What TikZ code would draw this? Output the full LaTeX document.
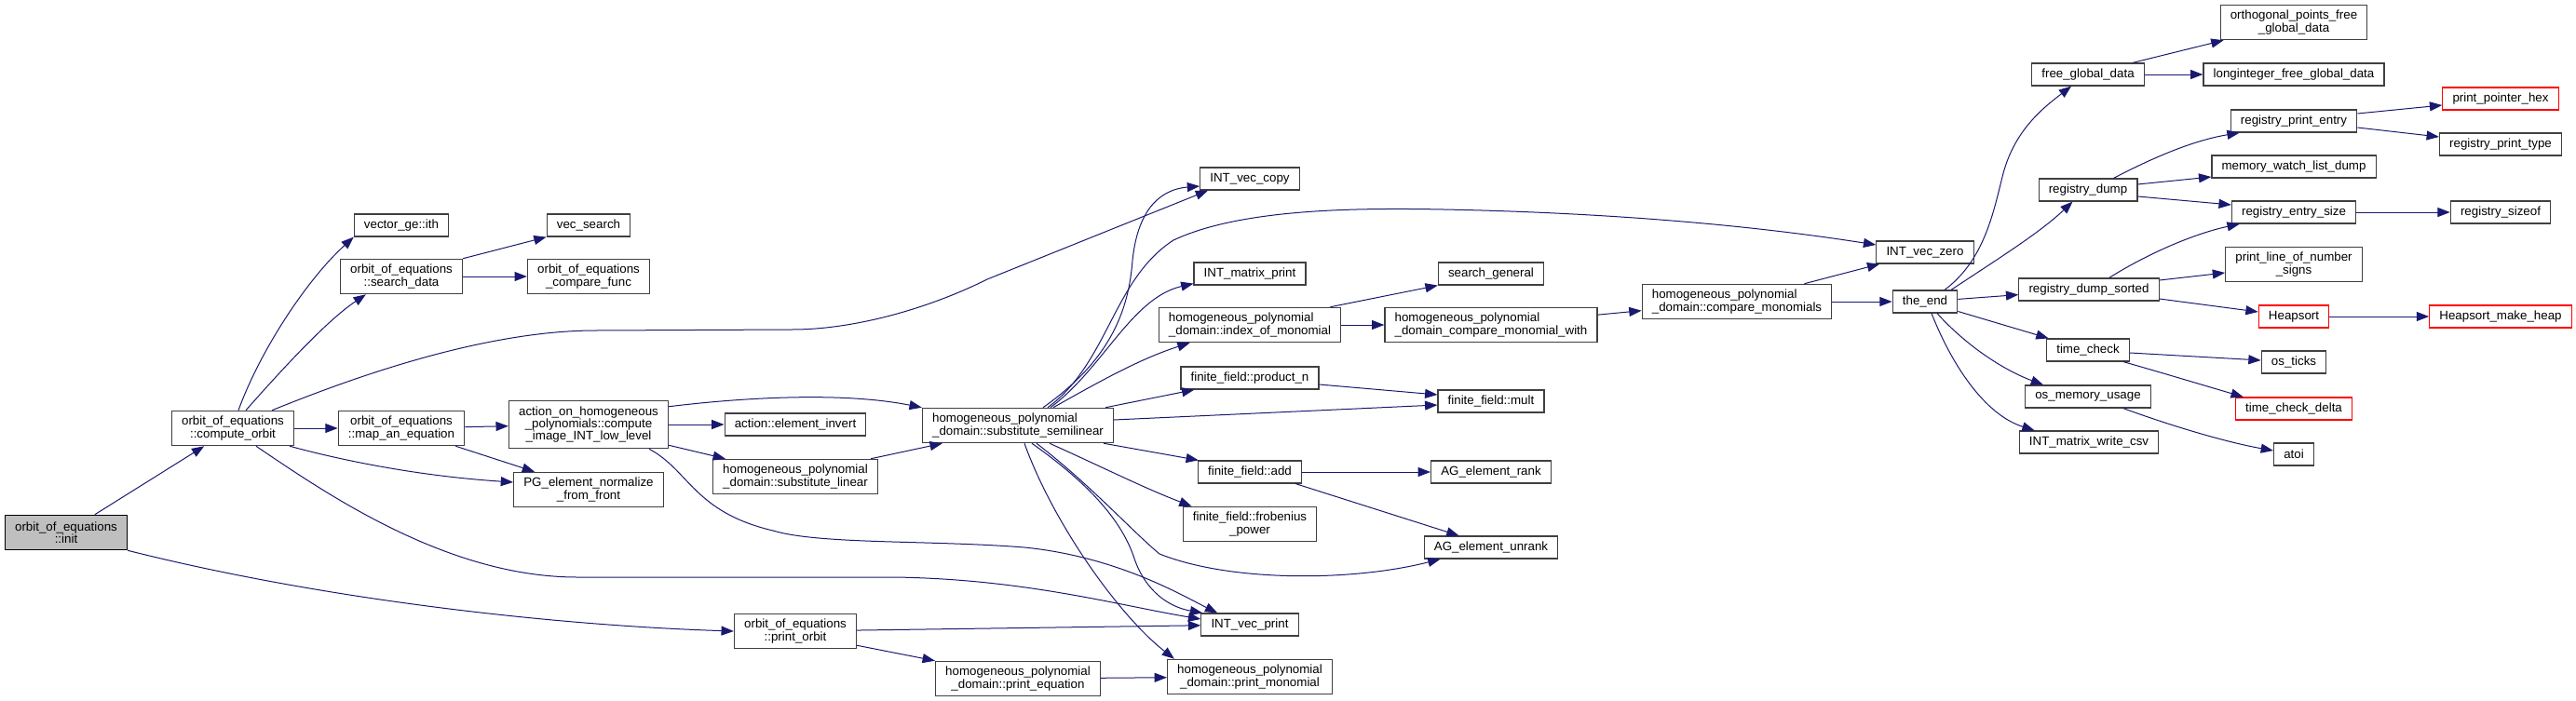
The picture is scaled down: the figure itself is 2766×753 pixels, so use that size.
\documentclass[tikz,border=0pt]{standalone}
\usepackage{fontspec}
\setmainfont{Liberation Sans}
\usetikzlibrary{arrows.meta,calc}
\definecolor{navyedge}{HTML}{191970}
\definecolor{boxline}{HTML}{404040}
\definecolor{rootfill}{HTML}{BFBFBF}
\tikzset{
  box/.style={draw=boxline, line width=0.9pt, fill=white, inner xsep=8pt, inner ysep=0pt,
    font=\fontsize{10}{10}\selectfont, align=center, minimum height=18pt},
  two/.style={minimum height=28pt},
  three/.style={minimum height=38.5pt},
  lft/.style={align=left},
  redbox/.style={draw=red},
  e/.style={draw=navyedge, line width=0.75pt, -{Triangle[length=10pt,width=7.5pt]}},
}
\begin{document}
\begin{tikzpicture}[x=0.75pt,y=-0.75pt]
\useasboundingbox (0,0) rectangle (2766,753);
% nodes
\node[box,two,fill=rootfill,draw=black] (init) at (71,572) {orbit\_of\_equations\\::init};
\node[box,two] (corb) at (250,460) {orbit\_of\_equations\\::compute\_orbit};
\node[box] (vith) at (431,242) {vector\_ge::ith};
\node[box,two] (sdata) at (431,297) {orbit\_of\_equations\\::search\_data};
\node[box,two] (mapeq) at (431,460) {orbit\_of\_equations\\::map\_an\_equation};
\node[box] (vsearch) at (632,242) {vec\_search};
\node[box,two] (cfunc) at (632,297) {orbit\_of\_equations\\\_compare\_func};
\node[box,three] (cimg) at (632,456) {action\_on\_homogeneous\\\_polynomials::compute\\\_image\_INT\_low\_level};
\node[box,two] (pgn) at (632,526) {PG\_element\_normalize\\\_from\_front};
\node[box] (einv) at (854,456) {action::element\_invert};
\node[box,two] (slin) at (854,512) {homogeneous\_polynomial\\\_domain::substitute\_linear};
\node[box,two] (porb) at (854,678) {orbit\_of\_equations\\::print\_orbit};
\node[box,two,lft] (semi) at (1093,457) {homogeneous\_polynomial\\\_domain::substitute\_semilinear};
\node[box,two] (peq) at (1093,729) {homogeneous\_polynomial\\\_domain::print\_equation};
\node[box] (vcopy) at (1342,192) {INT\_vec\_copy};
\node[box] (mprint) at (1342,294) {INT\_matrix\_print};
\node[box,two,lft] (idxmon) at (1342,349) {homogeneous\_polynomial\\\_domain::index\_of\_monomial};
\node[box] (prodn) at (1342,406) {finite\_field::product\_n};
\node[box] (ffadd) at (1342,507) {finite\_field::add};
\node[box,two] (frob) at (1342,563) {finite\_field::frobenius\\\_power};
\node[box] (vprint) at (1342,671) {INT\_vec\_print};
\node[box,two] (pmon) at (1342,727) {homogeneous\_polynomial\\\_domain::print\_monomial};
\node[box] (sgen) at (1601,294) {search\_general};
\node[box,two,lft] (cmw) at (1601,349) {homogeneous\_polynomial\\\_domain\_compare\_monomial\_with};
\node[box] (ffmult) at (1601,431) {finite\_field::mult};
\node[box] (agrank) at (1601,507) {AG\_element\_rank};
\node[box] (agunrank) at (1601,588) {AG\_element\_unrank};
\node[box,two,lft] (cmon) at (1865,324) {homogeneous\_polynomial\\\_domain::compare\_monomials};
\node[box] (vzero) at (2067,271) {INT\_vec\_zero};
\node[box] (theend) at (2067,324) {the\_end};
\node[box] (fgd) at (2242,80) {free\_global\_data};
\node[box] (rdump) at (2242,204) {registry\_dump};
\node[box] (rds) at (2243,311) {registry\_dump\_sorted};
\node[box] (tcheck) at (2242,376) {time\_check};
\node[box] (osmem) at (2242,426) {os\_memory\_usage};
\node[box] (mwcsv) at (2243,475) {INT\_matrix\_write\_csv};
\node[box,two] (ortho) at (2463,24) {orthogonal\_points\_free\\\_global\_data};
\node[box] (longint) at (2463,80) {longinteger\_free\_global\_data};
\node[box] (rpe) at (2463,130) {registry\_print\_entry};
\node[box] (mwld) at (2463,179) {memory\_watch\_list\_dump};
\node[box] (res) at (2463,228) {registry\_entry\_size};
\node[box,two] (plns) at (2463,284) {print\_line\_of\_number\\\_signs};
\node[box,redbox] (heap) at (2463,340) {Heapsort};
\node[box] (osticks) at (2463,389) {os\_ticks};
\node[box,redbox] (tcd) at (2463,439) {time\_check\_delta};
\node[box] (atoi) at (2463,488) {atoi};
\node[box,redbox] (pph) at (2685,106) {print\_pointer\_hex};
\node[box] (rpt) at (2685,155) {registry\_print\_type};
\node[box] (rsz) at (2685,228) {registry\_sizeof};
\node[box,redbox] (hmh) at (2685,340) {Heapsort\_make\_heap};
% edges
\draw[e] (init) -- (corb);
\draw[e] (init.south east) .. controls (350,645) and (600,672) .. (porb.west);
\draw[e] ($(corb.north)+(6,0)$) .. controls (280,375) and (330,300) .. (vith.south west);
\draw[e] ($(corb.north)+(14,0)$) .. controls (300,400) and (350,345) .. ($(sdata.south west)+(28,0)$);
\draw[e] ($(corb.north east)+(-24,0)$) .. controls (380,405) and (520,355) .. (640,355) -- (850,354) .. controls (920,354) and (1000,330) .. (1060,300) -- ($(vcopy.south west)+(9,0)$);
\draw[e] (corb) -- (mapeq);
\draw[e] ($(corb.south east)+(-5,0)$) .. controls (380,498) and (460,512) .. ($(pgn.west)+(0,-8)$);
\draw[e] ($(corb.south)+(25,0)$) .. controls (350,530) and (480,620) .. (620,620) -- (960,620) .. controls (1100,622) and (1200,650) .. ($(vprint.west)+(0,-6)$);
\draw[e] (sdata.north east) -- (vsearch.south west);
\draw[e] (sdata) -- (cfunc);
\draw[e] (mapeq) -- (cimg);
\draw[e] ($(mapeq.south east)+(-10,0)$) -- ($(pgn.north west)+(23,0)$);
\draw[e] ($(cimg.north east)+(0,7)$) .. controls (790,428) and (900,420) .. (semi.north west);
\draw[e] (cimg) -- (einv);
\draw[e] ($(cimg.south east)+(0,-4)$) -- ($(slin.north west)+(14,0)$);
\draw[e] ($(cimg.south)+(65,0)$) .. controls (740,505) and (745,550) .. (830,570) .. controls (880,585) and (1000,580) .. (1100,588) .. controls (1200,598) and (1270,640) .. ($(vprint.north west)+(18,0)$);
\draw[e] ($(slin.north east)+(-8,0)$) -- ($(semi.south west)+(22,0)$);
\draw[e] ($(semi.north)+(27,0)$) .. controls (1195,385) and (1212,330) .. (1216,280) .. controls (1222,220) and (1250,203) .. ($(vcopy.west)+(0,8)$);
\draw[e] ($(semi.north)+(32,0)$) .. controls (1190,390) and (1195,300) .. (1260,258) .. controls (1330,225) and (1450,223) .. (1550,225) .. controls (1750,229) and (1900,245) .. ($(vzero.west)+(0,-8)$);
\draw[e] ($(semi.north)+(35,0)$) .. controls (1185,395) and (1215,320) .. ($(mprint.south west)+(0,-2)$);
\draw[e] ($(semi.north)+(38,0)$) .. controls (1180,410) and (1225,385) .. ($(idxmon.south west)+(34,0)$);
\draw[e] ($(semi.north east)+(-9,0)$) -- ($(prodn.south west)+(15,0)$);
\draw[e] ($(semi.east)+(0,-6)$) -- ($(ffmult.west)+(0,4)$);
\draw[e] ($(semi.south east)+(-11,0)$) -- ($(ffadd.north west)+(1,0)$);
\draw[e] ($(semi.south)+(34,0)$) .. controls (1180,500) and (1230,525) .. ($(frob.north west)+(10,0)$);
\draw[e] ($(semi.south)+(20,0)$) .. controls (1170,520) and (1215,570) .. (1245,595) .. controls (1320,625) and (1450,625) .. ($(agunrank.south west)+(18,0)$);
\draw[e] ($(semi.south)+(15,0)$) .. controls (1170,520) and (1205,560) .. (1218,600) .. controls (1230,635) and (1255,652) .. ($(vprint.north west)+(2,0)$);
\draw[e] ($(semi.south)+(7,0)$) .. controls (1130,560) and (1200,660) .. ($(pmon.north west)+(8,0)$);
\draw[e] ($(idxmon.north east)+(-12,0)$) -- (sgen.south west);
\draw[e] (idxmon) -- (cmw);
\draw[e] (cmw) -- (cmon);
\draw[e] ($(cmon.north east)+(-30,0)$) -- ($(vzero.south west)+(4,0)$);
\draw[e] (cmon) -- (theend);
\draw[e] ($(prodn.east)+(0,7)$) -- ($(ffmult.west)+(0,-7)$);
\draw[e] (ffadd) -- (agrank);
\draw[e] ($(ffadd.south east)+(-7,0)$) -- ($(agunrank.north west)+(38,0)$);
\draw[e] (porb) -- (vprint);
\draw[e] ($(porb.south east)+(0,-4)$) -- (peq.north west);
\draw[e] (peq) -- (pmon);
\draw[e] ($(theend.north)+(21,0)$) .. controls (2130,280) and (2140,230) .. (2150,190) .. controls (2162,140) and (2195,115) .. ($(fgd.south west)+(43,0)$);
\draw[e] ($(theend.north)+(28,0)$) .. controls (2150,275) and (2190,250) .. ($(rdump.south west)+(37,0)$);
\draw[e] (theend) -- (rds);
\draw[e] (theend) -- (tcheck);
\draw[e] ($(theend.south)+(13,0)$) .. controls (2110,370) and (2150,397) .. ($(osmem.north west)+(20,0)$);
\draw[e] ($(theend.south)+(7,0)$) .. controls (2095,390) and (2130,445) .. ($(mwcsv.north west)+(17,0)$);
\draw[e] ($(fgd.north east)+(-13,0)$) -- ($(ortho.south west)+(4,0)$);
\draw[e] (fgd) -- (longint);
\draw[e] ($(rdump.north east)+(-26,0)$) .. controls (2320,165) and (2360,150) .. ($(rpe.south west)+(10,0)$);
\draw[e] ($(rdump.east)+(0,-6)$) -- ($(mwld.west)+(0,11)$);
\draw[e] ($(rdump.east)+(0,7)$) -- ($(res.west)+(0,-8)$);
\draw[e] ($(rpe.east)+(0,-8)$) -- ($(pph.west)+(0,7)$);
\draw[e] ($(rpe.east)+(0,7)$) -- ($(rpt.west)+(0,-8)$);
\draw[e] (res) -- (rsz);
\draw[e] ($(rds.north east)+(-54,0)$) .. controls (2310,270) and (2360,250) .. ($(res.south west)+(9,0)$);
\draw[e] ($(rds.east)+(0,-10)$) -- ($(plns.west)+(0,9)$);
\draw[e] ($(rds.east)+(0,10)$) -- ($(heap.west)+(0,-5)$);
\draw[e] (heap) -- (hmh);
\draw[e] ($(tcheck.east)+(0,3)$) -- ($(osticks.west)+(0,-2)$);
\draw[e] ($(tcheck.south east)+(-7,0)$) .. controls (2320,400) and (2370,415) .. ($(tcd.north west)+(9,0)$);
\draw[e] ($(osmem.south east)+(-30,0)$) .. controls (2330,457) and (2390,475) .. ($(atoi.west)+(0,-4)$);
\end{tikzpicture}
\end{document}
